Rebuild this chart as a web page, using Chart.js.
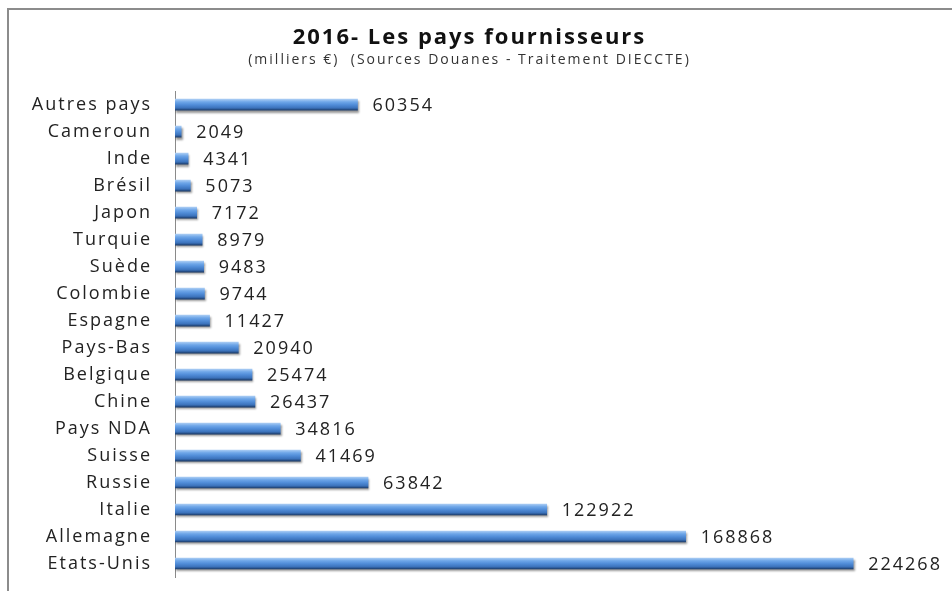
<!DOCTYPE html>
<html>
<head>
<meta charset="utf-8">
<script src="https://cdn.jsdelivr.net/npm/chart.js@4/dist/chart.umd.min.js"></script>
<style>
  html, body { margin: 0; padding: 0; background: #fff; }
  canvas { display: block; }
</style>
</head>
<body>
<canvas id="chart" width="952" height="591"></canvas>
<script>
const categories = ['Autres pays', 'Cameroun', 'Inde', 'Brésil', 'Japon', 'Turquie', 'Suède', 'Colombie',
    'Espagne', 'Pays-Bas', 'Belgique', 'Chine', 'Pays NDA', 'Suisse', 'Russie', 'Italie', 'Allemagne', 'Etats-Unis'];
const values = [60354, 2049, 4341, 5073, 7172, 8979, 9483, 9744,
    11427, 20940, 25474, 26437, 34816, 41469, 63842, 122922, 168868, 224268];
const titleText = '2016- Les pays fournisseurs';
const subtitleText = '(milliers €)  (Sources Douanes - Traitement DIECCTE)';

const FONT = "'Open Sans', 'DejaVu Sans', sans-serif";

// frame around the chart (right and bottom edges are cut off in the original)
const framePlugin = {
    id: 'frame',
    beforeDraw(chart) {
        const ctx = chart.ctx;
        ctx.letterSpacing = '2px';
        ctx.save();
        ctx.strokeStyle = '#8c8c8c';
        ctx.lineWidth = 2;
        ctx.beginPath();
        ctx.moveTo(8, chart.height);
        ctx.lineTo(8, 9);
        ctx.lineTo(chart.width, 9);
        ctx.stroke();
        ctx.restore();
    }
};

// bar shadow + value labels at the end of each bar
const barLabelPlugin = {
    id: 'barLabels',
    beforeDatasetsDraw(chart) {
        const ctx = chart.ctx;
        ctx.save();
        ctx.shadowColor = 'rgba(0, 0, 0, 0.4)';
        ctx.shadowOffsetX = 1;
        ctx.shadowOffsetY = 2;
        ctx.shadowBlur = 2;
    },
    afterDatasetsDraw(chart) {
        const ctx = chart.ctx;
        ctx.restore();
        const meta = chart.getDatasetMeta(0);
        ctx.save();
        ctx.font = '18px ' + FONT;
        ctx.fillStyle = '#222';
        ctx.textAlign = 'left';
        ctx.textBaseline = 'middle';
        meta.data.forEach((bar, i) => {
            ctx.fillText(String(values[i]), bar.x + 15, bar.y + 1);
        });
        ctx.restore();
    }
};

function barGradient(context) {
    const chart = context.chart;
    const yScale = chart.scales.y;
    if (!chart.chartArea || !yScale) return '#4f8bd8';
    const yc = yScale.getPixelForValue(context.dataIndex);
    const g = chart.ctx.createLinearGradient(0, yc - 5.5, 0, yc + 5.5);
    g.addColorStop(0, '#a8cbf3');
    g.addColorStop(0.25, '#6ea6e8');
    g.addColorStop(0.5, '#528ed9');
    g.addColorStop(0.8, '#3b72bb');
    g.addColorStop(1, '#1d3d6b');
    return g;
}

const ctx = document.getElementById('chart').getContext('2d');
new Chart(ctx, {
    type: 'bar',
    data: {
        labels: categories,
        datasets: [{
            data: values,
            backgroundColor: barGradient,
            borderWidth: 0,
            barThickness: 11
        }]
    },
    options: {
        indexAxis: 'y',
        responsive: false,
        devicePixelRatio: 1,
        animation: false,
        layout: { padding: { left: 8, right: 21, top: 0, bottom: 14 } },
        plugins: {
            legend: { display: false },
            tooltip: { enabled: false },
            title: {
                display: true,
                text: titleText,
                color: '#111',
                font: { family: FONT, size: 22, weight: 'bold', lineHeight: 1.2 },
                padding: { top: 25, bottom: 0 }
            },
            subtitle: {
                display: true,
                text: subtitleText,
                color: '#333',
                font: { family: FONT, size: 14, lineHeight: 1.2 },
                padding: { top: 0, bottom: 23 }
            }
        },
        scales: {
            x: { display: false, min: 0, max: 250000 },
            y: {
                grid: { display: false, drawTicks: false },
                border: { display: true, color: '#8a8a8a', width: 1 },
                ticks: { color: '#222', font: { family: FONT, size: 18 }, padding: 23 },
                afterFit(scale) {
                    scale.width = 167;
                    scale.paddingTop = 0;
                    scale.paddingBottom = 0;
                }
            }
        }
    },
    plugins: [framePlugin, barLabelPlugin]
});
</script>
</body>
</html>
